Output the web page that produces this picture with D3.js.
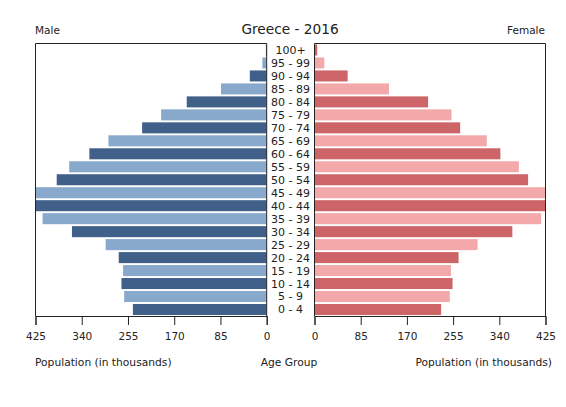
<!DOCTYPE html>
<html><head><meta charset="utf-8">
<script src="https://cdn.jsdelivr.net/npm/d3@7"></script>
<style>body{margin:0;background:#fff;} text{font-family:"DejaVu Sans",sans-serif;fill:#222;}</style>
</head><body>
<svg id="c" width="566" height="407"></svg>
<script>
const ageGroups = ["0 - 4","5 - 9","10 - 14","15 - 19","20 - 24","25 - 29","30 - 34","35 - 39","40 - 44","45 - 49","50 - 54","55 - 59","60 - 64","65 - 69","70 - 74","75 - 79","80 - 84","85 - 89","90 - 94","95 - 99","100+"];
const male   = [246,262,267,264,272,296,358,412,430,427,386,363,326,291,229,194,147,84,31,8,1.5];
const female = [233,249,254,251,265,300,364,417,430,427,393,376,342,317,268,252,209,137,61,18,5];
const tickValues = [0,85,170,255,340,425];
const title = "Greece - 2016";

const svg = d3.select("#c");
const yTop = 43.5, yBot = 316;
const y = d3.scaleBand().domain(ageGroups.slice().reverse()).range([yTop, yBot]).paddingInner(0.15).paddingOuter(0.075);
const xL = d3.scaleLinear().domain([0,425]).range([266.7, 35.5]);
const xR = d3.scaleLinear().domain([0,425]).range([314.5, 545.5]);

const maleColors = ["#406089","#88a8cc"];
const femaleColors = ["#cd6468","#f3a8aa"];

svg.append("clipPath").attr("id","clipL").append("rect").attr("x",35.5).attr("y",yTop).attr("width",266.7-35.5).attr("height",yBot-yTop);
svg.append("clipPath").attr("id","clipR").append("rect").attr("x",314.5).attr("y",yTop).attr("width",545.5-314.5).attr("height",yBot-yTop);

svg.append("g").attr("clip-path","url(#clipL)").selectAll("rect").data(ageGroups).join("rect")
  .attr("x",(d,i)=>xL(male[i])).attr("width",(d,i)=>xL(0)-xL(male[i]))
  .attr("y",d=>y(d)).attr("height",y.bandwidth())
  .attr("fill",(d,i)=>maleColors[i%2]);
svg.append("g").attr("clip-path","url(#clipR)").selectAll("rect").data(ageGroups).join("rect")
  .attr("x",xR(0)).attr("width",(d,i)=>xR(female[i])-xR(0))
  .attr("y",d=>y(d)).attr("height",y.bandwidth())
  .attr("fill",(d,i)=>femaleColors[i%2]);

// frames
const stroke="#222";
svg.append("path").attr("d",`M${xL(0)},${yBot}V${yTop}H${xL(425)}V${yBot}`).attr("fill","none").attr("stroke",stroke).attr("stroke-width",1);
svg.append("path").attr("d",`M${xR(0)},${yBot}V${yTop}H${xR(425)}V${yBot}`).attr("fill","none").attr("stroke",stroke).attr("stroke-width",1);

function styleAxis(g){
  g.select(".domain").attr("stroke",stroke);
  g.selectAll(".tick line").attr("stroke",stroke);
  g.selectAll(".tick text").style("font-family","DejaVu Sans").style("font-size","10.5px").attr("fill","#222").attr("dy","0.95em");
}
svg.append("g").attr("transform",`translate(0,${yBot})`).call(d3.axisBottom(xL).tickValues(tickValues).tickSizeOuter(0).tickSize(9).tickPadding(5)).call(styleAxis);
svg.append("g").attr("transform",`translate(0,${yBot})`).call(d3.axisBottom(xR).tickValues(tickValues).tickSizeOuter(0).tickSize(9).tickPadding(5)).call(styleAxis);

// age labels
svg.append("g").selectAll("text").data(ageGroups).join("text")
  .attr("x",290.5).attr("y",d=>y(d)+y.bandwidth()/2).attr("dy","0.36em")
  .attr("text-anchor","middle").style("font-size","11px").text(d=>d);

svg.append("text").attr("x",290).attr("y",34).attr("text-anchor","middle").style("font-size","13.7px").text(title);
svg.append("text").attr("x",35).attr("y",34).style("font-size","10.5px").text("Male");
svg.append("text").attr("x",545).attr("y",34).attr("text-anchor","end").style("font-size","10.5px").text("Female");
svg.append("text").attr("x",35).attr("y",366).style("font-size","10.7px").text("Population (in thousands)");
svg.append("text").attr("x",289).attr("y",366).attr("text-anchor","middle").style("font-size","10.7px").text("Age Group");
svg.append("text").attr("x",552).attr("y",366).attr("text-anchor","end").style("font-size","10.7px").text("Population (in thousands)");
</script>
</body></html>
